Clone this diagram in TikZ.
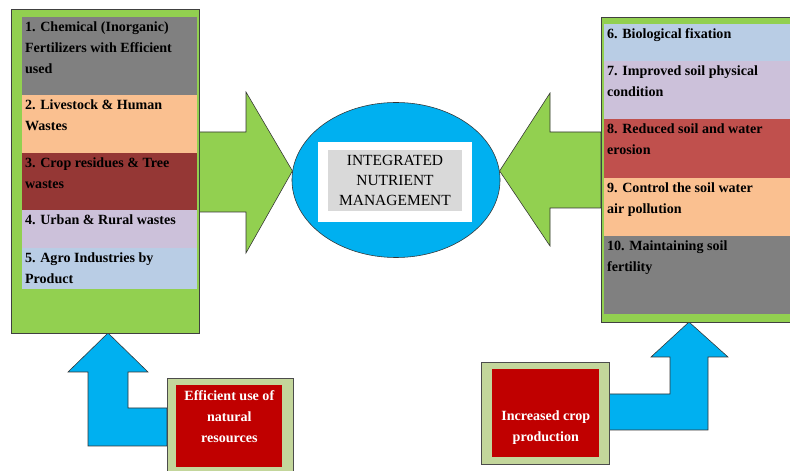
\documentclass[tikz,border=0pt]{standalone}
\usepackage{fontspec}
\setmainfont{Liberation Serif}
\usepackage{xcolor}
\usepackage{tikz}
\usetikzlibrary{positioning,shapes.geometric,calc}

\definecolor{leafgreen}{HTML}{92D050}
\definecolor{skyblue}{HTML}{00B0F0}
\definecolor{rowgray}{HTML}{808080}
\definecolor{rowpeach}{HTML}{FAC090}
\definecolor{rowbrown}{HTML}{953735}
\definecolor{rowlilac}{HTML}{CCC1DA}
\definecolor{rowblue}{HTML}{B9CDE5}
\definecolor{rowred}{HTML}{C0504D}
\definecolor{boxsage}{HTML}{C3D69B}
\definecolor{boxred}{HTML}{C00000}
\definecolor{capgray}{HTML}{D9D9D9}

\begin{document}
\begin{tikzpicture}[x=0.025cm, y=-0.025cm,
    every node/.style={font=\bfseries\fontsize{10}{15}\selectfont},
    panel/.style={draw=black!75, fill=leafgreen, anchor=north west, inner sep=0pt, outer sep=0pt},
    lrow/.style={anchor=north west, minimum width=4.375cm, inner sep=0pt, outer sep=0pt},
    rrow/.style={lrow, minimum width=4.775cm},
    item/.style={anchor=north west, align=left, inner xsep=2pt, inner ysep=3pt},
    blk/.style={draw=black!80, line join=miter, fill=leafgreen},
    upblk/.style={blk, fill=skyblue},
    outerbox/.style={draw=black!70, fill=boxsage, anchor=north west, inner sep=0pt},
    innerbox/.style={fill=boxred, anchor=north west, inner sep=0pt},
    note/.style={text=white, align=center, inner sep=0pt},
  ]
  \clip (0,0) rectangle (790,471);

  % centre
  \node[ellipse, draw=black!80, fill=skyblue, minimum width=5.2cm, minimum height=3.875cm, inner sep=0pt] (inm) at (396,180) {};
  \node[fill=white, minimum width=3.85cm, minimum height=1.975cm, inner sep=0pt] (capbg) at (395,182) {};
  \node[fill=capgray, minimum width=3.35cm, minimum height=1.525cm, inner sep=0pt, align=center,
        font=\mdseries\fontsize{11}{14.2}\selectfont] (cap) at (395,180.5) {INTEGRATED\\NUTRIENT\\MANAGEMENT};

  % block arrows
  \coordinate (ltip) at (inm.175);
  \coordinate (rtip) at (inm.5);
  \draw[blk] (199,132) -- (246,132) -- (246,92) -- (ltip) -- (246,253) -- (246,212) -- (199,212) -- cycle;
  \draw[blk] (601,132) -- (550,132) -- (550,93) -- (rtip) -- (550,246) -- (550,208) -- (601,208) -- cycle;
  \draw[upblk] (88,446) -- (88,372) -- (68,372) -- (108,333) -- (148,372) -- (128,372) -- (128,408) -- (167,408) -- (167,446) -- cycle;
  \draw[upblk] (609,394) -- (670,394) -- (670,357) -- (651,357) -- (689,322) -- (728,357) -- (708,357) -- (708,430) -- (609,430) -- cycle;

  % left panel
  \node[panel, minimum width=4.7cm, minimum height=8.1cm] (lpanel) at (11,9) {};
  \node[lrow, fill=rowgray, minimum height=1.95cm] (l1) at (22,17) {};
  \node[lrow, fill=rowpeach, minimum height=1.45cm, below=0pt of l1] (l2) {};
  \node[lrow, fill=rowbrown, minimum height=1.425cm, below=0pt of l2] (l3) {};
  \node[lrow, fill=rowlilac, minimum height=0.95cm, below=0pt of l3] (l4) {};
  \node[lrow, fill=rowblue, minimum height=1.025cm, below=0pt of l4] (l5) {};
  \node[item] (t1) at (l1.north west) {1. Chemical (Inorganic)\\Fertilizers with Efficient\\used};
  \node[item] (t2) at (l2.north west) {2. Livestock \& Human\\Wastes};
  \node[item] (t3) at (l3.north west) {3. Crop residues \& Tree\\wastes};
  \node[item] (t4) at (l4.north west) {4. Urban \& Rural wastes};
  \node[item] (t5) at (l5.north west) {5. Agro Industries by\\Product};

  % right panel
  \node[panel, minimum width=4.975cm, minimum height=7.625cm] (rpanel) at (601,17) {};
  \node[rrow, fill=rowblue, minimum height=0.925cm] (r6) at (604,24) {};
  \node[rrow, fill=rowlilac, minimum height=1.45cm, below=0pt of r6] (r7) {};
  \node[rrow, fill=rowred, minimum height=1.475cm, below=0pt of r7] (r8) {};
  \node[rrow, fill=rowpeach, minimum height=1.45cm, below=0pt of r8] (r9) {};
  \node[rrow, fill=rowgray, minimum height=1.95cm, below=0pt of r9] (r10) {};
  \node[item] (t6) at (r6.north west) {6. Biological fixation};
  \node[item] (t7) at (r7.north west) {7. Improved soil physical\\condition};
  \node[item] (t8) at (r8.north west) {8. Reduced soil and water\\erosion};
  \node[item] (t9) at (r9.north west) {9. Control the soil water\\air pollution};
  \node[item] (t10) at (r10.north west) {10. Maintaining soil\\fertility};

  % bottom boxes
  \node[outerbox, minimum width=3.15cm, minimum height=2.325cm] (effout) at (167,378) {};
  \node[innerbox, minimum width=2.65cm, minimum height=2.05cm] (effin) at (176,385) {};
  \node[note, anchor=north] (efftxt) at ($(effin.north)+(0,5)$) {Efficient use of\\natural\\resources};
  \node[outerbox, minimum width=3.2cm, minimum height=2.55cm] (cropout) at (481,362) {};
  \node[innerbox, minimum width=2.675cm, minimum height=2.2cm] (cropin) at (492,369) {};
  \node[note] (croptxt) at ($(cropin.center)+(0,14)$) {Increased crop\\production};
\end{tikzpicture}
\end{document}
